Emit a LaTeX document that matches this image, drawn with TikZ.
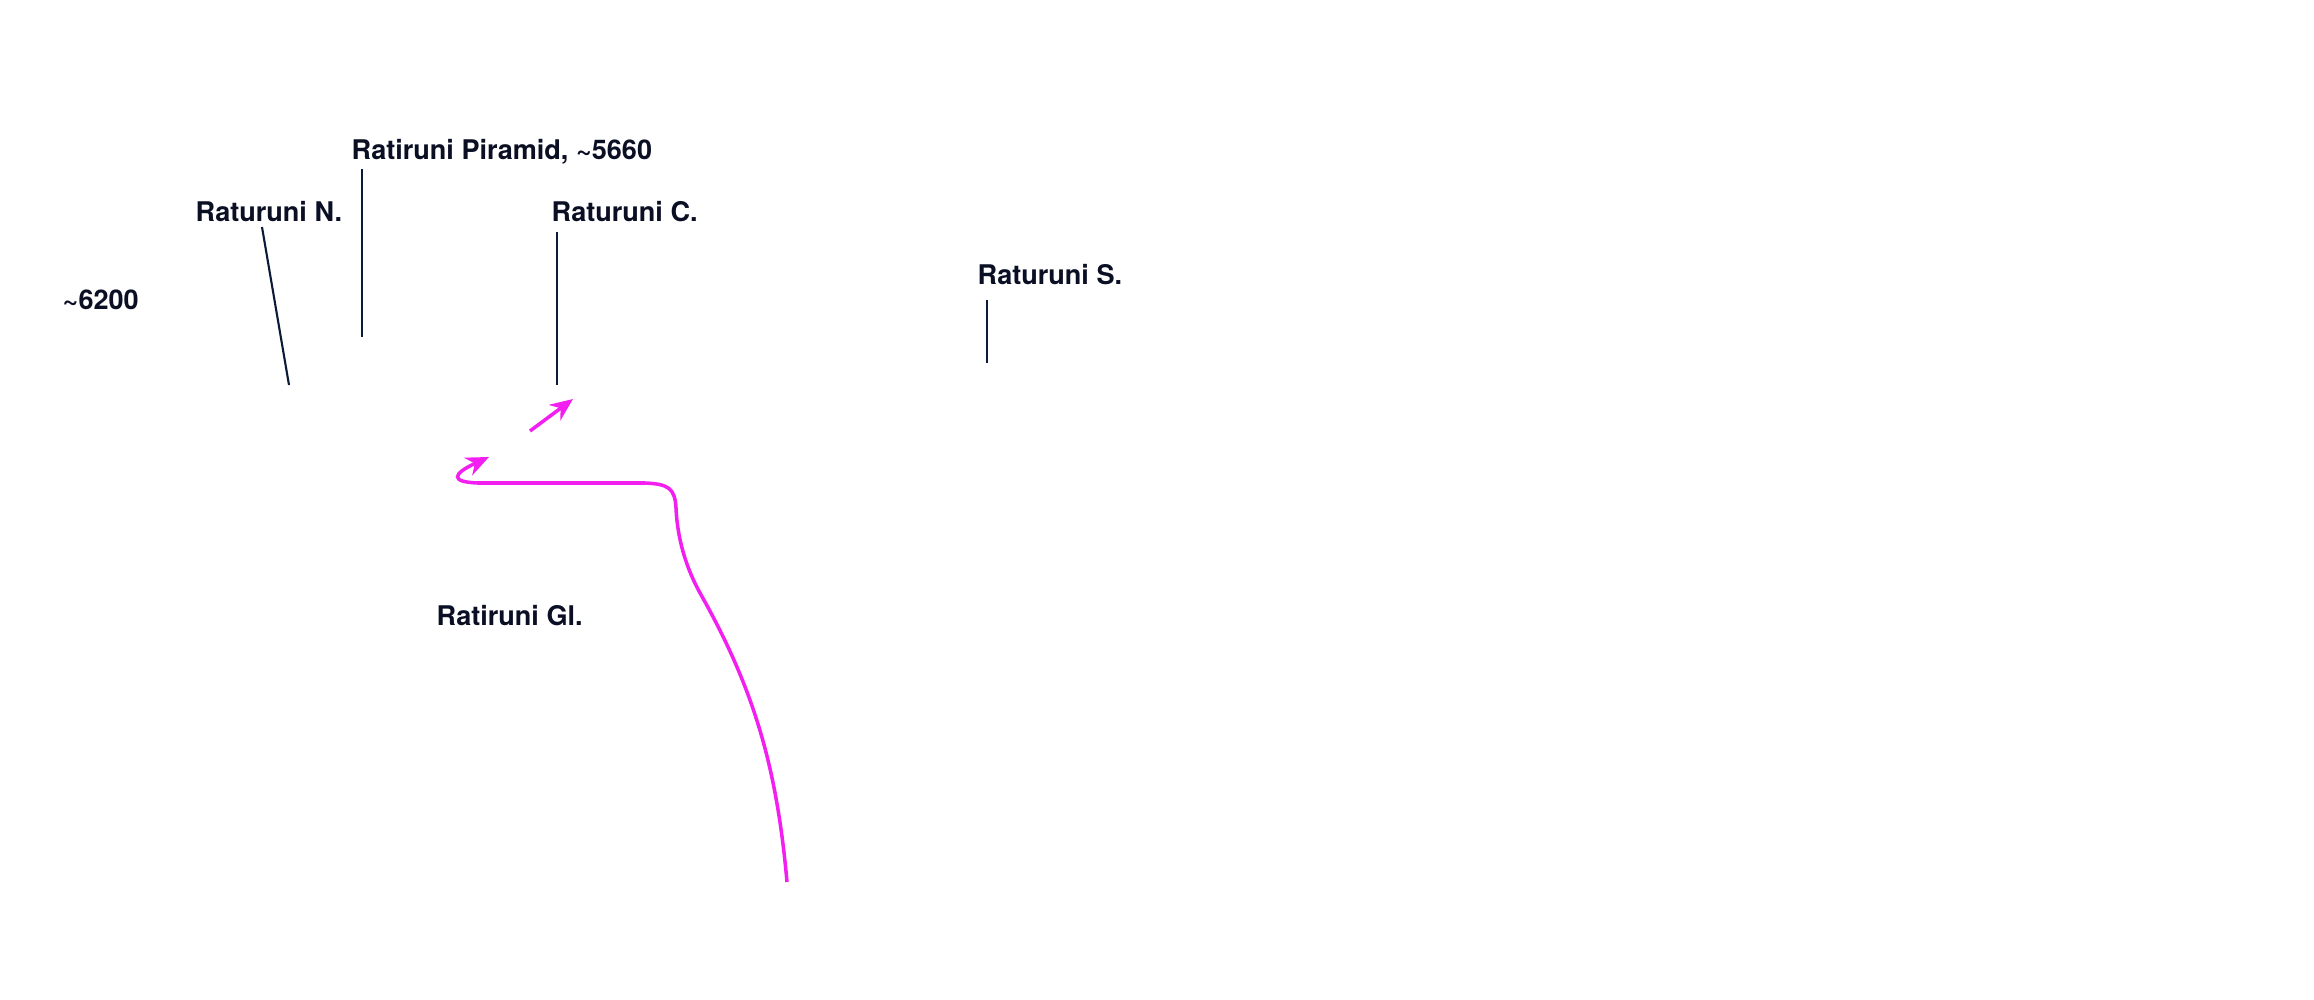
\documentclass[tikz,border=0pt]{standalone}
\usepackage{fontspec}
\setmainfont{TeX Gyre Heros}
\usetikzlibrary{arrows.meta}
\definecolor{navy}{HTML}{0B1A38}
\definecolor{ink}{HTML}{0A0F24}
\definecolor{mag}{HTML}{F21FF0}
\begin{document}
\begin{tikzpicture}[x=0.01cm,y=-0.01cm,
  lbl/.style={inner sep=0pt,anchor=base west,text=ink,font=\fontsize{7.7pt}{9pt}\selectfont\bfseries},
  ptr/.style={draw=navy,line width=0.6pt},
  marrow/.style={draw=mag,line width=1pt,-{Stealth[length=6.5pt,width=5.5pt]}}]
\useasboundingbox (0,0) rectangle (2314,1000);
% labels
\node[lbl] (pir) at (351,159) {Ratiruni Piramid, \textasciitilde5660};
\node[lbl] (nn) at (195,221) {Raturuni N.};
\node[lbl] (cc) at (551,221) {Raturuni C.};
\node[lbl] (l62) at (62,309) {\textasciitilde6200};
\node[lbl] (ss) at (977,284) {Raturuni S.};
\node[lbl] (gl) at (436,625) {Ratiruni Gl.};
% pointer ends
\coordinate (pirA) at (362,169);
\coordinate (pirB) at (362,337);
\coordinate (nnA) at (262,227);
\coordinate (nnB) at (289,385);
\coordinate (ccA) at (557,232);
\coordinate (ccB) at (557,385);
\coordinate (ssA) at (987,300);
\coordinate (ssB) at (987,363);
\draw[ptr] (pirA) -- (pirB);
\draw[ptr] (nnA) -- (nnB);
\draw[ptr] (ccA) -- (ccB);
\draw[ptr] (ssA) -- (ssB);
% magenta arrows
\coordinate (a1s) at (530,431);
\coordinate (a1e) at (573,399);
\draw[marrow] (a1s) -- (a1e);
\coordinate (cs) at (787,882);
\coordinate (ce) at (489,457);
\draw[marrow] (cs) .. controls (777,770) and (755,690) .. (700,593)
  .. controls (682,560) and (677,530) .. (676,508)
  .. controls (675,488) and (668,484) .. (645,483)
  -- (478,483) .. controls (450,482) and (452,474) .. (ce);
\end{tikzpicture}
\end{document}
